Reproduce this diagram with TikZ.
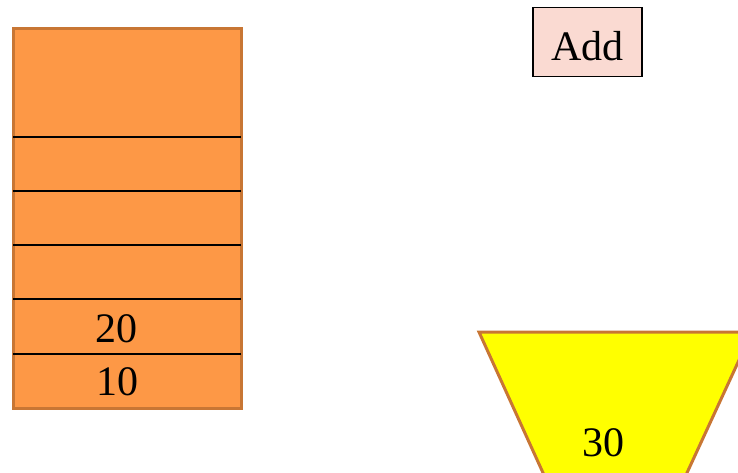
\documentclass[tikz,border=0pt]{standalone}
\usepackage{fontspec}
\setmainfont{Liberation Serif}
\definecolor{stackfill}{RGB}{253,152,70}
\definecolor{stackedge}{RGB}{200,118,52}
\definecolor{opfill}{RGB}{250,218,210}
\definecolor{accfill}{RGB}{255,255,0}
\begin{document}
\begin{tikzpicture}[x=1pt,y=-1pt,
  digits/.style={font=\fontsize{42}{42}\selectfont, anchor=base, inner sep=0pt},
  sep/.style={black, line width=2pt}]
\useasboundingbox (0,0) rectangle (738,472);
% stack of cells
\draw[fill=stackfill, draw=stackedge, line width=3pt] (13,28) rectangle (241,408);
\foreach \yy in {136.5,190.8,245.1,299.4,353.7}
  \draw[sep] (13,\yy) -- (241,\yy);
\node[digits] (v20) at (116,342) {20};
\node[digits] (v10) at (117,395) {10};
% operation label
\node[draw=black, line width=1.3pt, fill=opfill, minimum width=109pt, minimum height=69pt,
      font=\fontsize{42}{42}\selectfont, inner sep=0pt] (op) at (587.5,42) {};
\node[digits] (optext) at (587.5,60) {Add};
% accumulator
\begin{scope}
\clip (0,0) rectangle (738,472);
\draw[fill=accfill, draw=stackedge, line width=3pt, line join=miter]
  (479,332) -- (752,332) -- (686,475) -- (544,475) -- cycle;
\end{scope}
\node[digits] (v30) at (603,456) {30};
\end{tikzpicture}
\end{document}
